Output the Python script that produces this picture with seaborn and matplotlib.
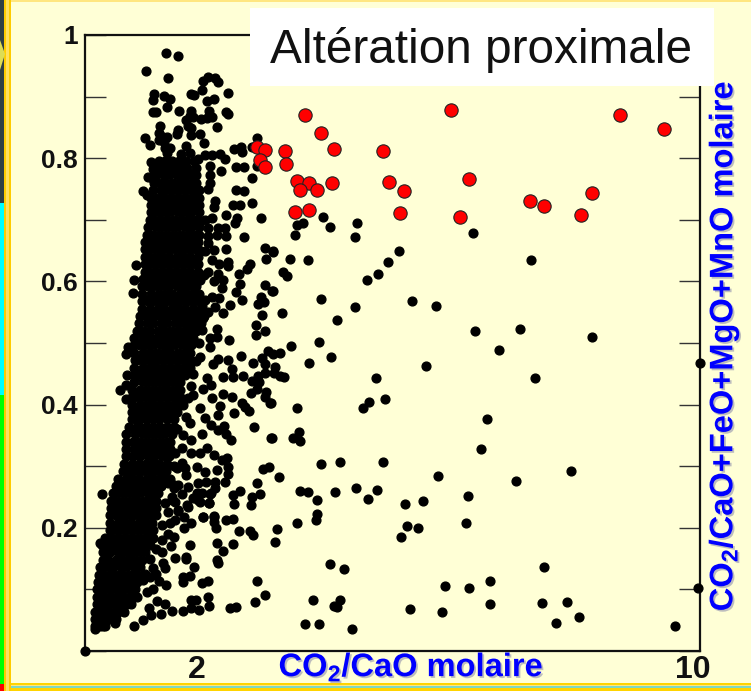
import matplotlib
matplotlib.use('Agg')
import matplotlib.pyplot as plt
import matplotlib.patheffects as pe
from matplotlib.patches import Rectangle, Polygon
import pandas as pd
import seaborn as sns

# red samples (proximal alteration)
red_points = [
    (3.57, .870), (3.83, .841), (4.05, .815), (3.25, .812), (3.27, .791), (4.85, .811), (5.95, .878),
    (6.25, .766), (3.45, .763), (3.64, .759), (4.02, .760), (3.49, .748), (3.77, .748), (4.95, .761),
    (5.19, .746), (3.42, .712), (3.65, .716), (5.12, .711), (6.10, .705), (8.70, .870), (9.41, .847),
    (7.24, .731), (7.46, .722), (8.25, .744), (8.07, .708), (2.80, .818), (2.92, .813), (2.85, .797),
    (2.93, .785),
]

# black points that can be told apart
black_points = [
    (0, 0), (3.87, .705), (3.44, .692), (3.54, .695), (3.99, .689), (4.42, .695), (4.39, .672), (3.41, .675),
    (6.31, .679), (3.06, .648), (3.34, .637), (3.63, .635), (5.11, .650), (4.92, .632), (4.76, .612),
    (4.59, .603), (3.22, .616), (3.28, .609), (3.05, .584), (3.84, .571), (3.20, .549), (5.31, .568),
    (5.71, .560), (4.39, .558), (4.10, .537), (6.34, .519), (6.73, .489), (3.81, .502), (3.35, .495),
    (3.17, .483), (3.06, .482), (4.00, .478), (3.65, .468), (3.09, .461), (5.55, .463), (7.25, .635),
    (8.24, .510), (7.07, .523), (7.32, .443), (10.0, .468),
    (3.08, .452), (3.17, .447), (3.24, .444), (4.73, .443), (4.88, .409), (4.61, .405), (4.52, .394),
    (3.44, .394), (3.02, .402), (6.54, .377), (6.44, .328), (3.48, .355), (3.38, .345), (3.49, .341),
    (3.04, .345), (3.83, .304), (4.15, .307), (4.85, .307), (5.74, .284), (3.15, .282), (3.49, .259),
    (3.63, .258), (3.78, .245), (4.07, .258), (4.40, .265), (4.74, .261), (4.60, .246), (5.21, .238),
    (5.50, .244), (6.23, .252), (6.20, .208), (3.78, .222), (3.76, .213), (3.44, .208), (3.12, .198),
    (3.09, .177), (5.24, .203), (5.42, .200), (5.14, .185), (3.98, .141), (4.21, .133), (5.86, .105),
    (6.25, .103), (6.59, .113), (6.59, .076), (5.80, .064), (5.28, .068), (3.70, .083), (4.15, .082),
    (4.05, .073), (4.09, .071), (3.57, .044), (3.80, .044), (4.34, .036), (7.91, .292), (7.00, .276),
    (7.46, .137), (7.43, .078), (7.84, .079), (8.04, .056), (7.66, .045), (9.59, .040), (9.97, .103),
    (2.80, .113), (2.92, .091), (2.77, .079), (2.35, .069), (2.46, .072), (2.00, .087), (2.02, .073),
    (2.00, .113), (1.90, .111), (1.80, .083), (1.73, .082), (1.86, .066), (1.73, .069), (1.60, .065),
    (1.42, .065), (1.30, .076), (1.24, .060), (1.07, .058), (.95, .050), (1.04, .069), (1.17, .081),
    (.79, .041), (.49, .045), (.33, .041), (.16, .035), (1.31, .107), (1.21, .114), (1.11, .100),
    (1.01, .096), (1.71, .122), (1.59, .120), (1.59, .112), (1.77, .137), (1.64, .153), (1.64, .149),
    (1.46, .151), (1.27, .143), (2.15, .148), (2.17, .143), (2.24, .162), (2.14, .176), (2.41, .173),
    (1.71, .172), (2.50, .195), (2.69, .194), (2.73, .189), (2.13, .199), (2.09, .209), (2.30, .213),
    (2.41, .214), (1.92, .218), (2.09, .219), (1.73, .207), (1.61, .199), (1.47, .212), (1.38, .207),
    (1.61, .218), (1.51, .229), (1.66, .237), (2.02, .241), (1.84, .245), (2.42, .238), (2.70, .237),
    (2.72, .250), (2.85, .255), (2.52, .259), (2.41, .254), (2.05, .257), (.27, .255), (1.41, .250),
    (1.46, .242), (1.90, .256), (.24, .175),
    (2.25, .444), (2.39, .457), (2.41, .445), (2.57, .447), (2.73, .467), (2.92, .466), (2.92, .452),
    (2.71, .439), (2.81, .446), (2.83, .437), (2.80, .425), (2.70, .419), (2.95, .420), (2.93, .413),
    (3.00, .402), (2.25, .418), (2.39, .412), (2.55, .402), (2.60, .396), (2.66, .390), (2.42, .386),
    (2.75, .363), (3.02, .346), (2.89, .295), (2.99, .298), (2.79, .273), (2.27, .274),
    (2.37, .343), (2.30, .352), (2.26, .365), (2.17, .358), (2.17, .383), (2.20, .397), (2.06, .410),
    (2.05, .432), (1.98, .443), (1.92, .426), (1.76, .416), (1.87, .394), (1.95, .379), (2.05, .367),
    (1.90, .353), (1.73, .343), (1.98, .329), (1.87, .321), (2.09, .318), (2.31, .314), (2.22, .310),
    (2.32, .298), (2.14, .294), (2.32, .288), (1.95, .291), (1.82, .299), (1.57, .305), (1.49, .297),
    (1.63, .297), (1.65, .286), (1.46, .321), (1.57, .329), (1.73, .321), (2.11, .275), (1.96, .275),
    (1.84, .272), (1.68, .266), (2.11, .264), (2.03, .255), (1.82, .256), (1.76, .248), (2.02, .240),
    (1.87, .242), (1.92, .217), (1.67, .234), (2.09, .218), (1.41, .245), (1.44, .264), (1.35, .272),
    (1.51, .228), (.68, .448), (.66, .432), (.57, .423), (.66, .409),
    (2.72, .728), (2.41, .724), (2.52, .724), (2.30, .708), (2.47, .703), (2.44, .694), (2.86, .703),
    (2.59, .672), (2.93, .654), (3.06, .650), (2.94, .636), (2.68, .629), (2.64, .620), (2.50, .612),
    (2.93, .594), (3.04, .584), (2.52, .596), (2.45, .583), (2.55, .569), (2.86, .575), (2.91, .567),
    (2.82, .564), (2.88, .545), (2.36, .562), (2.24, .549), (2.78, .530), (2.93, .520), (2.78, .513),
    (2.34, .505), (2.97, .487), (2.88, .475), (2.54, .479), (2.33, .472), (2.17, .474),
    (2.06, .703), (2.00, .686), (2.16, .687), (2.28, .686), (2.30, .673), (2.14, .675), (2.00, .673),
    (2.00, .662), (2.29, .653), (2.09, .651), (2.06, .635), (2.18, .629), (2.33, .632), (2.33, .625),
    (2.00, .616), (2.16, .612), (2.25, .602), (2.22, .590), (2.09, .600), (1.87, .602), (2.06, .575),
    (2.18, .573), (2.11, .559), (2.00, .551), (2.15, .523), (2.03, .508), (2.14, .509), (2.03, .494),
    (1.90, .521), (2.08, .466), (1.87, .478), (1.63, .475), (.78, .581), (.79, .602), (.83, .627),
    (.67, .482), (.70, .494),
    (1.31, .971), (1.52, .966), (.99, .942), (1.35, .931), (1.92, .926), (2.00, .932), (2.11, .931),
    (2.16, .924), (1.90, .911), (2.32, .906), (1.73, .905), (1.78, .903), (1.13, .904), (1.11, .894),
    (1.29, .901), (1.39, .896), (2.09, .896), (1.98, .893), (1.33, .883), (1.53, .877), (1.11, .875),
    (1.15, .875), (1.73, .877), (2.02, .876), (2.29, .875), (2.32, .872), (1.71, .869), (1.76, .867),
    (2.06, .867), (1.98, .866), (1.88, .863), (1.65, .862), (1.22, .853), (2.14, .851), (1.68, .852),
    (1.73, .849), (1.52, .846), (1.49, .839), (1.87, .840), (1.73, .838), (1.20, .841), (1.27, .835),
    (1.33, .835), (.98, .833), (1.20, .830), (1.29, .827), (1.06, .821), (1.94, .825), (1.65, .820),
    (1.30, .816), (1.38, .816), (1.33, .809), (1.71, .808), (1.56, .807), (2.06, .806), (2.20, .807),
    (1.95, .805), (2.28, .799), (1.84, .798), (2.42, .815), (2.54, .818), (2.56, .810), (2.71, .818),
    (2.79, .832), (2.79, .787), (2.46, .786), (2.59, .785), (2.04, .788), (2.21, .780), (2.03, .772),
    (2.71, .768), (2.04, .759), (2.00, .750), (2.45, .748), (2.59, .747), (2.11, .731), (2.09, .721),
    (.94, .747), (1.00, .740), (1.08, .794), (1.11, .782), (1.03, .769), (1.11, .766),
    # fringe next to the cloud
    (1.50, .36), (1.60, .35), (1.65, .38), (1.60, .40), (1.68, .41), (1.70, .37), (1.45, .30), (1.38, .28),
    (1.52, .27), (1.45, .27), (1.58, .255), (1.30, .24), (1.35, .225), (1.25, .205), (1.35, .19), (1.45, .185),
    (1.25, .18), (1.15, .165), (1.25, .16), (1.40, .17), (1.10, .135), (1.05, .15), (1.15, .125), (1.05, .12),
    (1.30, .135), (.95, .115), (.98, .125), (1.95, .70), (1.95, .65), (1.93, .61), (1.95, .57), (1.90, .56),
    (1.92, .54), (1.85, .50), (1.80, .47), (1.75, .45), (1.72, .43),
]

# the dense cloud, estimated row by row: (y, x values)
cloud_rows = [
    (.040, [.17, .24, .30]),
    (.052, [.16, .22, .29, .40, .50]),
    (.064, [.17, .26, .35, .44, .54, .63]),
    (.076, [.19, .27, .38, .48, .59, .68, .74]),
    (.088, [.20, .30, .41, .52, .62, .73, .85]),
    (.100, [.19, .27, .37, .48, .58, .69, .78, .82]),
    (.112, [.21, .32, .43, .53, .65, .74, .85]),
    (.124, [.22, .30, .40, .51, .60, .72, .82, .85]),
    (.136, [.25, .36, .46, .58, .67, .79, .90]),
    (.148, [.29, .38, .50, .60, .71, .82, .93]),
    (.160, [.29, .41, .53, .63, .75, .86, .98]),
    (.172, [.27, .36, .47, .59, .69, .80, .92, 1.06]),
    (.184, [.32, .43, .54, .65, .76, .88, .99, 1.11]),
    (.196, [.40, .48, .60, .71, .82, .93, 1.03, 1.11]),
    (.208, [.40, .53, .64, .75, .87, .98, 1.09]),
    (.220, [.40, .50, .61, .72, .83, .94, 1.05, 1.15]),
    (.232, [.42, .54, .66, .77, .88, 1.00, 1.10, 1.15]),
    (.244, [.42, .52, .63, .74, .85, .96, 1.06, 1.15]),
    (.256, [.45, .57, .68, .80, .90, 1.02, 1.12, 1.19]),
    (.268, [.51, .62, .74, .85, .95, 1.07, 1.17, 1.24]),
    (.280, [.54, .66, .77, .88, 1.00, 1.11, 1.22, 1.28]),
    (.292, [.61, .71, .83, .94, 1.05, 1.15, 1.25, 1.31]),
    (.304, [.64, .76, .88, .99, 1.10, 1.21, 1.34]),
    (.316, [.67, .78, .90, 1.02, 1.13, 1.25, 1.37]),
    (.328, [.67, .80, .85, .96, 1.07, 1.19, 1.29, 1.39]),
    (.340, [.67, .78, .90, 1.01, 1.12, 1.24, 1.35, 1.39]),
    (.352, [.67, .82, .95, 1.06, 1.17, 1.29, 1.42]),
    (.364, [.72, .85, .89, 1.00, 1.11, 1.22, 1.34, 1.44]),
    (.376, [.77, .88, .99, 1.10, 1.21, 1.33, 1.44]),
    (.388, [.77, .84, .94, 1.05, 1.17, 1.28, 1.39, 1.50]),
    (.400, [.76, .89, 1.00, 1.11, 1.22, 1.34, 1.45, 1.55]),
    (.412, [.76, .84, .95, 1.06, 1.17, 1.28, 1.40, 1.51, 1.55]),
    (.424, [.76, .89, 1.00, 1.12, 1.23, 1.34, 1.45, 1.55]),
    (.436, [.80, .94, 1.05, 1.17, 1.28, 1.39, 1.50, 1.55]),
    (.448, [.80, .89, 1.00, 1.11, 1.22, 1.34, 1.45, 1.56, 1.63]),
    (.460, [.80, .94, 1.05, 1.16, 1.27, 1.39, 1.50, 1.61, 1.71]),
    (.472, [.82, .89, 1.00, 1.11, 1.22, 1.34, 1.45, 1.56, 1.66, 1.71]),
    (.484, [.80, .94, 1.05, 1.17, 1.28, 1.39, 1.51, 1.62, 1.71]),
    (.496, [.79, .89, 1.00, 1.11, 1.23, 1.34, 1.45, 1.57, 1.67, 1.73]),
    (.508, [.80, .94, 1.05, 1.17, 1.28, 1.40, 1.51, 1.62, 1.76]),
    (.520, [.84, .95, 1.06, 1.18, 1.29, 1.40, 1.52, 1.63, 1.72, 1.80]),
    (.532, [.88, 1.00, 1.11, 1.23, 1.34, 1.46, 1.57, 1.68, 1.79, 1.88]),
    (.544, [.90, 1.01, 1.13, 1.24, 1.35, 1.47, 1.58, 1.69, 1.80, 1.93]),
    (.556, [.92, 1.06, 1.18, 1.29, 1.41, 1.52, 1.63, 1.75, 1.88]),
    (.568, [.93, 1.03, 1.14, 1.26, 1.37, 1.48, 1.60, 1.71, 1.82, 1.88]),
    (.580, [.93, 1.08, 1.20, 1.31, 1.42, 1.54, 1.65, 1.76, 1.85]),
    (.592, [.93, 1.03, 1.14, 1.26, 1.37, 1.49, 1.60, 1.71, 1.80]),
    (.604, [.95, 1.08, 1.20, 1.31, 1.42, 1.54, 1.65, 1.75, 1.85]),
    (.616, [.97, 1.03, 1.14, 1.26, 1.37, 1.48, 1.60, 1.71, 1.83]),
    (.628, [.97, 1.09, 1.20, 1.31, 1.43, 1.54, 1.65, 1.76, 1.83]),
    (.640, [.97, 1.04, 1.15, 1.26, 1.37, 1.49, 1.60, 1.71, 1.83]),
    (.652, [.97, 1.09, 1.21, 1.32, 1.43, 1.55, 1.66, 1.76, 1.83]),
    (.664, [.97, 1.05, 1.16, 1.27, 1.39, 1.50, 1.61, 1.72, 1.83]),
    (.676, [1.00, 1.11, 1.22, 1.33, 1.45, 1.56, 1.67, 1.77, 1.85]),
    (.688, [1.03, 1.16, 1.27, 1.39, 1.50, 1.62, 1.73, 1.85]),
    (.700, [1.05, 1.11, 1.22, 1.33, 1.45, 1.56, 1.67, 1.78, 1.85]),
    (.712, [1.07, 1.17, 1.28, 1.39, 1.51, 1.62, 1.73, 1.86]),
    (.724, [1.07, 1.12, 1.23, 1.34, 1.46, 1.57, 1.68, 1.79, 1.86]),
    (.736, [1.08, 1.18, 1.29, 1.40, 1.52, 1.63, 1.74, 1.86]),
    (.748, [1.10, 1.24, 1.35, 1.46, 1.57, 1.69, 1.80, 1.85]),
    (.760, [1.13, 1.22, 1.30, 1.42, 1.53, 1.63, 1.74, 1.80]),
    (.772, [1.15, 1.28, 1.37, 1.49, 1.60, 1.71, 1.80]),
    (.784, [1.16, 1.22, 1.33, 1.44, 1.55, 1.66, 1.80]),
    (.796, [1.21, 1.30, 1.42, 1.53, 1.64, 1.77]),
]

y_ticks = [0, .1, .2, .3, .4, .5, .6, .7, .8, .9, 1]
y_labels = ['', '', '0.2', '', '0.4', '', '0.6', '', '0.8', '', '1']
x_labels = ['2', '10']
title = 'Altération proximale'
x_title = r'CO$_{\mathbf{2}}$/CaO molaire'
y_title = r'CO$_{\mathbf{2}}$/CaO+FeO+MgO+MnO molaire'

W, H = 751, 691
PAGE = '#FFFFD6'
BLUE = '#0000FF'

sns.set_theme(style='ticks')
plt.rcParams['font.family'] = ['Liberation Sans', 'DejaVu Sans']
plt.rcParams['mathtext.fontset'] = 'custom'
plt.rcParams['mathtext.bf'] = 'Liberation Sans:bold'
plt.rcParams['mathtext.rm'] = 'Liberation Sans:bold'
plt.rcParams['mathtext.default'] = 'bf'


def fx(x):
    return x / W


def fy(y):
    return 1 - y / H


def band(fig, x0, y0, x1, y1, color, z=1):
    fig.add_artist(Rectangle((fx(x0), fy(y1)), (x1 - x0) / W, (y1 - y0) / H,
                             transform=fig.transFigure, facecolor=color, edgecolor='none', zorder=z))


fig = plt.figure(figsize=(W / 100, H / 100), dpi=100, facecolor=PAGE)

# slide frame around the chart
band(fig, 0, 0, 751, 1.5, '#FFE680')
band(fig, 0, 683, 751, 691, '#FFD400')
band(fig, 0, 684.5, 751, 686, '#FFE680')
band(fig, 0, 686, 751, 688, '#7FD8C0')
band(fig, 4, 0, 11, 691, '#FFCC00')
band(fig, 6.5, 0, 8.5, 691, '#FFE060')
band(fig, 0, 0, 4, 203, '#2F3F45')
band(fig, 0, 203, 4, 395, '#00FFFF')
band(fig, 0, 395, 4, 684, '#00FF00')
band(fig, 0, 684, 4, 691, '#FF0000')
fig.add_artist(Polygon([(fx(0), fy(40)), (fx(5), fy(54)), (fx(0), fy(70))], closed=True,
                       transform=fig.transFigure, facecolor='#DDDD55', edgecolor='none', zorder=2))

ax = fig.add_axes([fx(85), fy(651), 615 / W, 616 / H], facecolor=PAGE)

black = pd.DataFrame(black_points, columns=['x', 'y'])
cloud = pd.DataFrame([(x, y) for y, xs in cloud_rows for x in xs], columns=['x', 'y'])
red = pd.DataFrame(red_points, columns=['x', 'y'])

sns.scatterplot(data=pd.concat([cloud, black]), x='x', y='y', color='black', s=40, edgecolor='black',
                linewidth=1.0, clip_on=False, zorder=3, ax=ax)
sns.scatterplot(data=red, x='x', y='y', color='#FF0000', s=92, edgecolor='#222222', linewidth=0.8,
                clip_on=False, zorder=4, ax=ax)

ax.set_xlim(0, 10)
ax.set_ylim(0, 1)
ax.set_xlabel('')
ax.set_ylabel('')
ax.set_yticks(y_ticks, y_labels, fontsize=19, fontweight='bold', color='#111111')
ax.set_xticks([1.81, 9.89], x_labels, fontsize=23, fontweight='bold', color='#111111')
ax.tick_params(axis='y', direction='in', left=True, right=True, length=15, width=1, color='#333333', pad=5)
ax.tick_params(axis='x', length=0, pad=3)
for s in ax.spines.values():
    s.set_visible(True)
    s.set_linewidth(1.6)
    s.set_color('#111111')

# title box sits over the top right of the frame
band(fig, 250, 8, 714, 86, 'white', z=5)
fig.text(fx(481), fy(63), title, fontsize=34.4, color='#111111', ha='center', va='baseline', zorder=6)

shadow = [pe.withSimplePatchShadow(offset=(1.3, -1.3), shadow_rgbFace='#8888AA', alpha=0.55)]
fig.text(fx(411), fy(667), x_title, fontsize=23.5, fontweight='bold', color=BLUE, ha='center', va='center',
         path_effects=shadow, zorder=6)
fig.text(fx(724), fy(346), y_title, fontsize=23.5, fontweight='bold', color=BLUE, ha='center', va='center',
         rotation=90, path_effects=shadow, zorder=6)

fig.savefig('out.png', dpi=100, facecolor=PAGE)
